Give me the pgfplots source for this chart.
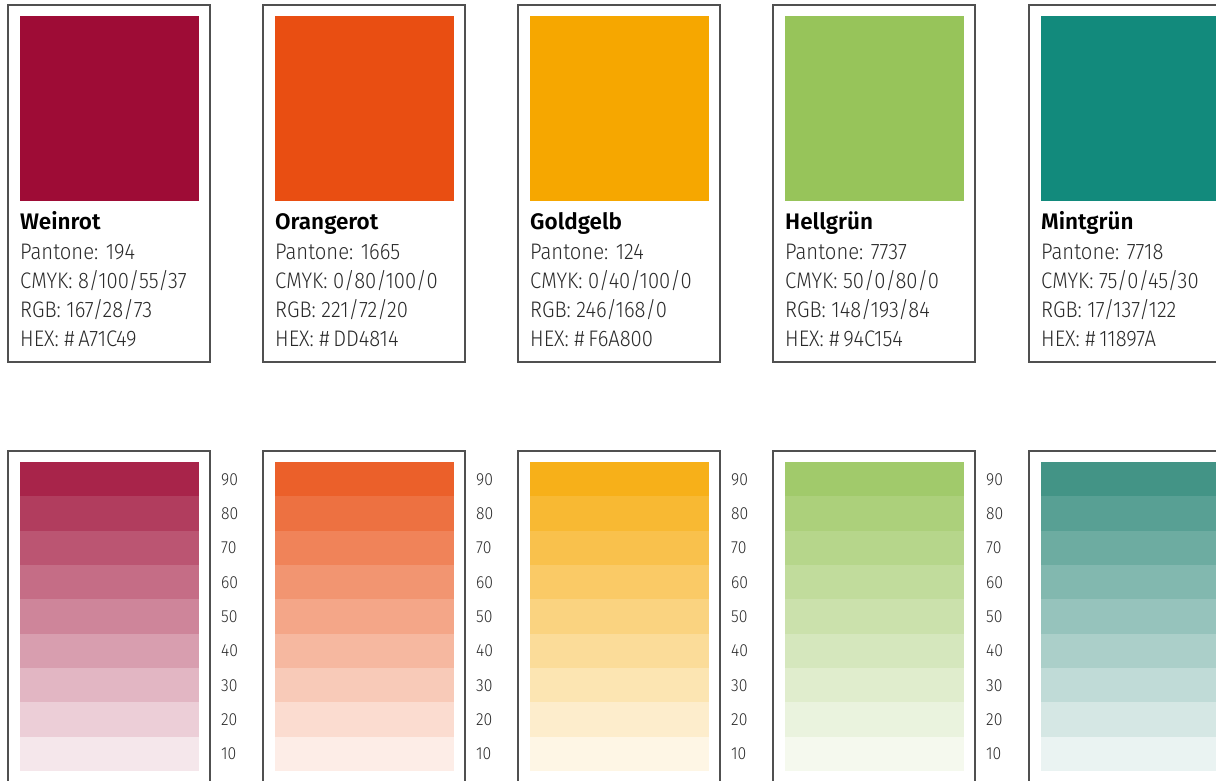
\documentclass[border=0pt]{standalone}
\usepackage{pgfplots}
\pgfplotsset{compat=1.18}
\usepackage{fontspec}
\setmainfont{Fira Sans}
\newfontfamily\lightf{Fira Sans Light}[FakeStretch=0.9]
\newfontfamily\semif{Fira Sans SemiBold}
\definecolor{weinrot}{HTML}{9E0C36}
\definecolor{orangerot}{HTML}{E94E12}
\definecolor{goldgelb}{HTML}{F6A700}
\definecolor{hellgruen}{HTML}{97C45A}
\definecolor{mintgruen}{HTML}{128A7C}
\definecolor{mintstripe}{HTML}{2E8879}
\definecolor{boxgray}{HTML}{505050}
\definecolor{txt}{HTML}{2A2A2A}
\newcommand\numfont{\lightf\fontsize{17.5}{19}\selectfont}
\newcommand\titlefont{\semif\fontsize{22.5}{25}\selectfont}
\newcommand\bodyfont{\lightf\fontsize{22.5}{26}\selectfont}
% #1 swatch colour, #2 stripe colour, #3 box left x, #4 draw labels (1/0)
\newcommand\palette[4]{%
  \pgfmathsetmacro\xa{#3}\pgfmathsetmacro\xb{#3+202}%
  \pgfmathsetmacro\sa{#3+12}\pgfmathsetmacro\sb{#3+190.5}%
  \pgfmathsetmacro\lx{#3+213}%
  \edef\tmp{%
  \noexpand\addplot[draw=boxgray, line width=1.3pt, fill=white] coordinates {(\xa,5)(\xb,5)(\xb,362)(\xa,362)} -- cycle;
  \noexpand\addplot[draw=none, fill=#1] coordinates {(\sa,16)(\sb,16)(\sb,201)(\sa,201)} -- cycle;
  \noexpand\addplot[draw=boxgray, line width=1.3pt] coordinates {(\xa,820)(\xa,451)(\xb,451)(\xb,820)};
  }\tmp
  \foreach \t [count=\k from 0] in {90,80,70,60,50,40,30,20,10} {%
    \pgfmathsetmacro\ya{462+34.33*\k}\pgfmathsetmacro\yb{462+34.33*(\k+1)}%
    \pgfmathsetmacro\yl{\ya+23.3}%
    \edef\tmp{%
    \noexpand\addplot[draw=none, fill=#2!\t!white] coordinates {(\sa,\ya)(\sb,\ya)(\sb,\yb)(\sa,\yb)} -- cycle;
    }\tmp
    \ifnum#4=1
    \edef\tmp{%
    \noexpand\node[anchor=base west, text=txt, font=\noexpand\numfont, inner sep=0pt] at (axis cs:\lx,\yl) {\t};
    }\tmp
    \fi
  }%
}
% #1 text x, #2 title, #3 pantone, #4 cmyk, #5 rgb, #6 hex
\newcommand\info[6]{%
  \node[anchor=base west, inner sep=0pt, font=\titlefont, text=black] at (axis cs:#1,229.3) {#2};
  \node[anchor=base west, inner sep=0pt, font=\bodyfont, text=txt] at (axis cs:#1,259) {Pantone: #3};
  \node[anchor=base west, inner sep=0pt, font=\bodyfont, text=txt] at (axis cs:#1,288) {CMYK: #4};
  \node[anchor=base west, inner sep=0pt, font=\bodyfont, text=txt] at (axis cs:#1,317.3) {RGB: #5};
  \node[anchor=base west, inner sep=0pt, font=\bodyfont, text=txt] at (axis cs:#1,346.3) {HEX: \#\,#6};
}
\begin{document}
\begin{tikzpicture}
\useasboundingbox (0,0) rectangle (1216pt,781pt);
\begin{axis}[at={(0,0)}, anchor=south west, scale only axis,
  width=1216pt, height=781pt,
  xmin=0, xmax=1216, ymin=0, ymax=781, y dir=reverse,
  hide axis, clip=true]
\palette{weinrot}{weinrot}{8}{1}
\palette{orangerot}{orangerot}{263}{1}
\palette{goldgelb}{goldgelb}{518}{1}
\palette{hellgruen}{hellgruen}{773}{1}
\palette{mintgruen}{mintstripe}{1029}{0}
\info{20}{Weinrot}{194}{8/100/55/37}{167/28/73}{A71C49}
\info{275}{Orangerot}{1665}{0/80/100/0}{221/72/20}{DD4814}
\info{530}{Goldgelb}{124}{0/40/100/0}{246/168/0}{F6A800}
\info{785}{Hellgrün}{7737}{50/0/80/0}{148/193/84}{94C154}
\info{1041}{Mintgrün}{7718}{75/0/45/30}{17/137/122}{11897A}
\end{axis}
\end{tikzpicture}
\end{document}
